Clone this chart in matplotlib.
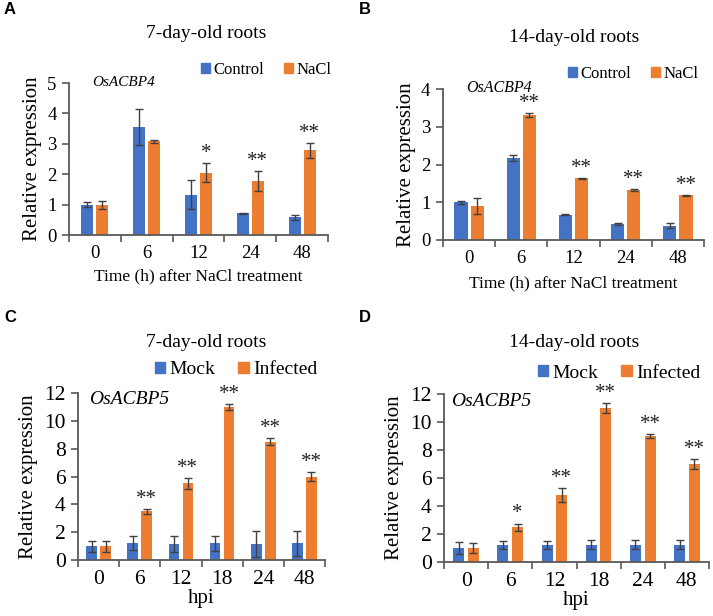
import numpy as np
import matplotlib
matplotlib.use("Agg")
import matplotlib.pyplot as plt
from matplotlib.patches import Patch

plt.rcParams['font.family'] = 'serif'
plt.rcParams['font.serif'] = ['Liberation Serif', 'DejaVu Serif']

BLUE = '#4472C4'
ORANGE = '#ED7D31'
AXC = '#595959'

# --- data ---
salt_times = ['0', '6', '12', '24', '48']
a_ctrl = [1.0, 3.55, 1.33, 0.72, 0.58]
a_ctrl_err = [0.07, 0.6, 0.47, 0.02, 0.09]
a_nacl = [1.0, 3.08, 2.05, 1.77, 2.78]
a_nacl_err = [0.13, 0.05, 0.32, 0.33, 0.25]
a_stars = ['', '', '*', '**', '**']

b_ctrl = [1.0, 2.17, 0.67, 0.42, 0.38]
b_ctrl_err = [0.04, 0.08, 0.02, 0.03, 0.07]
b_nacl = [0.9, 3.32, 1.63, 1.33, 1.18]
b_nacl_err = [0.2, 0.05, 0.02, 0.02, 0.01]
b_stars = ['', '**', '**', '**', '**']

hpi = ['0', '6', '12', '18', '24', '48']
c_mock = [1.0, 1.2, 1.15, 1.2, 1.15, 1.2]
c_mock_err = [0.4, 0.5, 0.6, 0.55, 0.9, 0.9]
c_inf = [1.0, 3.5, 5.5, 11.0, 8.5, 6.0]
c_inf_err = [0.4, 0.2, 0.4, 0.2, 0.25, 0.35]
c_stars = ['', '**', '**', '**', '**', '**']

d_mock = [1.0, 1.2, 1.2, 1.25, 1.25, 1.25]
d_mock_err = [0.4, 0.3, 0.3, 0.3, 0.3, 0.3]
d_inf = [1.0, 2.5, 4.8, 11.0, 9.0, 7.0]
d_inf_err = [0.35, 0.25, 0.5, 0.35, 0.12, 0.35]
d_stars = ['', '*', '**', '**', '**', '**']

W, H = 713, 616
fig = plt.figure(figsize=(W / 100, H / 100), dpi=100)


def px_axes(x0, x1, y_bottom, y_top):
    return fig.add_axes([x0 / W, 1 - y_bottom / H, (x1 - x0) / W, (y_bottom - y_top) / H])


def panel(box, cats, s1, e1, s2, e2, stars, ymax, ystep, width, off,
          fs_tick, fs_ylab, star_fs):
    ax = px_axes(*box)
    x = np.arange(len(cats))
    ek = dict(ecolor='#404040', elinewidth=1.0, capsize=2.6, capthick=1.0)
    ax.bar(x - off, s1, width, yerr=e1, color=BLUE, error_kw=ek, zorder=2)
    ax.bar(x + off, s2, width, yerr=e2, color=ORANGE, error_kw=ek, zorder=2)
    for i, st in enumerate(stars):
        if st:
            ax.text(x[i] + off, s2[i] + e2[i], st, ha='center', va='bottom',
                    fontsize=star_fs, color='#222222')
    ax.set_xlim(-0.5, len(cats) - 0.5)
    ax.set_ylim(0, ymax)
    ax.set_yticks(np.arange(0, ymax + 0.01, ystep))
    ax.set_xticks(x)
    ax.set_xticklabels(cats)
    ax.set_xticks(np.arange(-0.5, len(cats)), minor=True)
    ax.tick_params(axis='x', which='major', length=0, labelsize=fs_tick, pad=7)
    ax.tick_params(axis='x', which='minor', length=5, direction='out', color=AXC, width=1.2)
    ax.tick_params(axis='y', length=5, direction='out', color=AXC, width=1.2,
                   labelsize=fs_tick, pad=4)
    for sp in ['top', 'right']:
        ax.spines[sp].set_visible(False)
    for sp in ['left', 'bottom']:
        ax.spines[sp].set_color(AXC)
        ax.spines[sp].set_linewidth(1.3)
    ax.set_ylabel('Relative expression', fontsize=fs_ylab, labelpad=4)
    return ax


def legend(labels, cx, cy, fs):
    hs = [Patch(color=BLUE), Patch(color=ORANGE)]
    fig.legend(hs, labels, loc='center', bbox_to_anchor=(cx / W, 1 - cy / H), ncol=2,
               frameon=False, fontsize=fs, handlelength=0.55, handleheight=0.55,
               handletextpad=0.2, columnspacing=1.2, borderaxespad=0, borderpad=0)


def ftext(x, y, s, **kw):
    fig.text(x / W, 1 - y / H, s, **kw)


# A
axA = panel((69, 328, 235, 83), salt_times, a_ctrl, a_ctrl_err, a_nacl, a_nacl_err,
            a_stars, 5, 1, 0.23, 0.145, 13.5, 15, 15)
axA.set_xlabel('Time (h) after NaCl treatment', fontsize=12.5, labelpad=5)
# B
axB = panel((443, 704, 240, 89), salt_times, b_ctrl, b_ctrl_err, b_nacl, b_nacl_err,
            b_stars, 4, 1, 0.25, 0.155, 13.5, 15, 15)
axB.set_xlabel('Time (h) after NaCl treatment', fontsize=12.5, labelpad=6)
# C
axC = panel((78, 325, 560, 393), hpi, c_mock, c_mock_err, c_inf, c_inf_err,
            c_stars, 12, 2, 0.26, 0.17, 15.5, 15, 15)
axC.set_xlabel('hpi', fontsize=15, labelpad=0)
# D
axD = panel((444, 709, 562, 394), hpi, d_mock, d_mock_err, d_inf, d_inf_err,
            d_stars, 12, 2, 0.25, 0.165, 15.5, 15, 15)
axD.set_xlabel('hpi', fontsize=15, labelpad=0)

# titles
ftext(206, 33, '7-day-old roots', ha='center', va='center', fontsize=14)
ftext(574, 37, '14-day-old roots', ha='center', va='center', fontsize=14)
ftext(206, 343, '7-day-old roots', ha='center', va='center', fontsize=14)
ftext(574, 343, '14-day-old roots', ha='center', va='center', fontsize=14)

# legends
legend(['Control', 'NaCl'], 266, 70, 12)
legend(['Control', 'NaCl'], 633, 74, 12)
legend(['Mock', 'Infected'], 236, 370, 14)
legend(['Mock', 'Infected'], 619, 373, 14)

# gene names
ftext(92, 83, 'OsACBP4', ha='left', va='center', fontsize=11, style='italic')
ftext(466, 88, 'OsACBP4', ha='left', va='center', fontsize=11.5, style='italic')
ftext(89, 399, 'OsACBP5', ha='left', va='center', fontsize=14, style='italic')
ftext(451, 402, 'OsACBP5', ha='left', va='center', fontsize=14, style='italic')

# panel letters
for lab, (lx, ly) in zip('ABCD', [(4, 10), (359, 10), (4, 318), (359, 318)]):
    ftext(lx, ly, lab, ha='left', va='center', fontsize=12, fontweight='bold',
          family=['Liberation Sans', 'DejaVu Sans'])

fig.savefig('out.png', dpi=100)
